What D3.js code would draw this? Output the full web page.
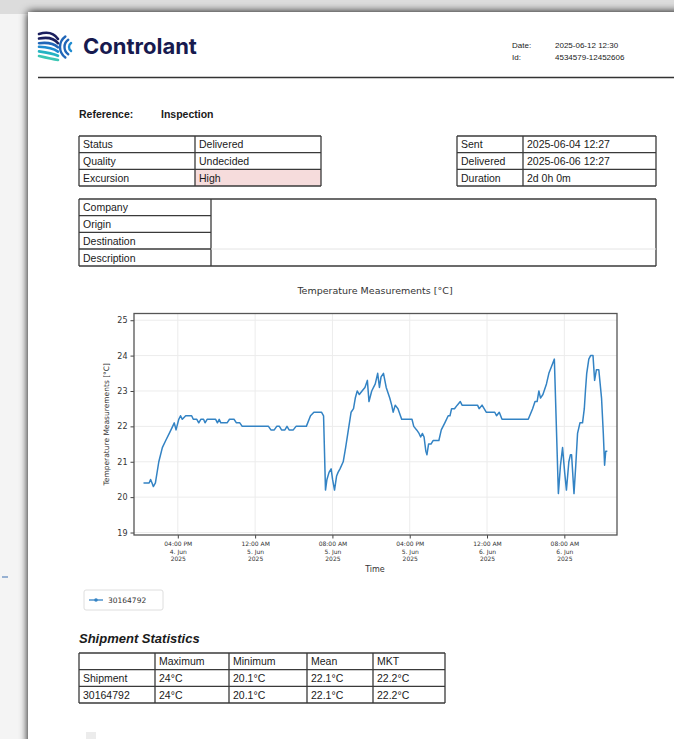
<!DOCTYPE html>
<html>
<head>
<meta charset="utf-8">
<script src="https://cdn.jsdelivr.net/npm/d3@7/dist/d3.min.js"></script>
<style>
  body { margin: 0; background: #f2f2f2; }
  svg { display: block; }
  .doc { font-family: "Liberation Sans", Arial, sans-serif; fill: #1a1a1a; }
  .mpl { font-family: "DejaVu Sans", sans-serif; }
</style>
</head>
<body>
<svg width="674" height="739"></svg>
<script>
// ---- data ----
var headerLabels = ['Date:', 'Id:'];
var headerValues = ['2025-06-12 12:30', '4534579-12452606'];

var statusLabels = ['Status', 'Quality', 'Excursion'];
var statusValues = ['Delivered', 'Undecided', 'High'];

var timeLabels = ['Sent', 'Delivered', 'Duration'];
var timeValues = ['2025-06-04 12:27', '2025-06-06 12:27', '2d 0h 0m'];

var infoLabels = ['Company', 'Origin', 'Destination', 'Description'];

var statColumns = ['', 'Maximum', 'Minimum', 'Mean', 'MKT'];
var statRows = [
    ['Shipment', '24°C', '20.1°C', '22.1°C', '22.2°C'],
    ['30164792', '24°C', '20.1°C', '22.1°C', '22.2°C']
];

var sensorName = '30164792';

var times = [
    '2025-06-04 12:27', '2025-06-04 13:02', '2025-06-04 13:11', '2025-06-04 13:20', '2025-06-04 13:28',
    '2025-06-04 13:41', '2025-06-04 14:02', '2025-06-04 14:24', '2025-06-04 14:45', '2025-06-04 15:07',
    '2025-06-04 15:28', '2025-06-04 15:38', '2025-06-04 15:49', '2025-06-04 16:06', '2025-06-04 16:17',
    '2025-06-04 16:28', '2025-06-04 16:49', '2025-06-04 17:26', '2025-06-04 17:36', '2025-06-04 17:58',
    '2025-06-04 18:10', '2025-06-04 18:23', '2025-06-04 18:40', '2025-06-04 18:49', '2025-06-04 19:02',
    '2025-06-04 19:55', '2025-06-04 20:06', '2025-06-04 20:17', '2025-06-04 20:27', '2025-06-04 21:06',
    '2025-06-04 21:21', '2025-06-04 21:49', '2025-06-04 22:04', '2025-06-04 22:25', '2025-06-04 22:40',
    '2025-06-05 01:23', '2025-06-05 01:38', '2025-06-05 01:59', '2025-06-05 02:14', '2025-06-05 02:31',
    '2025-06-05 02:44', '2025-06-05 03:05', '2025-06-05 03:18', '2025-06-05 03:31', '2025-06-05 03:57',
    '2025-06-05 04:14', '2025-06-05 05:18', '2025-06-05 05:44', '2025-06-05 06:05', '2025-06-05 06:52',
    '2025-06-05 07:05', '2025-06-05 07:17', '2025-06-05 07:26', '2025-06-05 07:39', '2025-06-05 07:52',
    '2025-06-05 08:01', '2025-06-05 08:13', '2025-06-05 08:26', '2025-06-05 08:35', '2025-06-05 08:47',
    '2025-06-05 09:07', '2025-06-05 09:22', '2025-06-05 09:39', '2025-06-05 09:56', '2025-06-05 10:11',
    '2025-06-05 10:22', '2025-06-05 10:34', '2025-06-05 10:47', '2025-06-05 11:04', '2025-06-05 11:22',
    '2025-06-05 11:37', '2025-06-05 11:47', '2025-06-05 12:04', '2025-06-05 12:26', '2025-06-05 12:41',
    '2025-06-05 12:52', '2025-06-05 13:02', '2025-06-05 13:17', '2025-06-05 13:34', '2025-06-05 13:56',
    '2025-06-05 14:08', '2025-06-05 14:17', '2025-06-05 14:30', '2025-06-05 14:47', '2025-06-05 15:10',
    '2025-06-05 16:14', '2025-06-05 16:25', '2025-06-05 16:43', '2025-06-05 16:58', '2025-06-05 17:08',
    '2025-06-05 17:19', '2025-06-05 17:29', '2025-06-05 17:40', '2025-06-05 17:47', '2025-06-05 17:57',
    '2025-06-05 18:12', '2025-06-05 18:25', '2025-06-05 19:01', '2025-06-05 19:16', '2025-06-05 19:38',
    '2025-06-05 19:59', '2025-06-05 20:10', '2025-06-05 20:20', '2025-06-05 20:38', '2025-06-05 20:55',
    '2025-06-05 21:14', '2025-06-05 21:25', '2025-06-05 23:01', '2025-06-05 23:11', '2025-06-05 23:29',
    '2025-06-05 23:55', '2025-06-06 00:48', '2025-06-06 00:59', '2025-06-06 01:16', '2025-06-06 01:33',
    '2025-06-06 04:16', '2025-06-06 04:43', '2025-06-06 04:58', '2025-06-06 05:11', '2025-06-06 05:22',
    '2025-06-06 05:32', '2025-06-06 05:47', '2025-06-06 06:09', '2025-06-06 06:24', '2025-06-06 06:41',
    '2025-06-06 06:58', '2025-06-06 07:23', '2025-06-06 07:36', '2025-06-06 07:49', '2025-06-06 08:02',
    '2025-06-06 08:13', '2025-06-06 08:28', '2025-06-06 08:38', '2025-06-06 08:45', '2025-06-06 09:00',
    '2025-06-06 09:11', '2025-06-06 09:22', '2025-06-06 09:37', '2025-06-06 09:53', '2025-06-06 10:04',
    '2025-06-06 10:11', '2025-06-06 10:19', '2025-06-06 10:32', '2025-06-06 10:43', '2025-06-06 10:58',
    '2025-06-06 11:08', '2025-06-06 11:19', '2025-06-06 11:34', '2025-06-06 11:51', '2025-06-06 12:02',
    '2025-06-06 12:10', '2025-06-06 12:17', '2025-06-06 12:27'
];

var temps = [
    20.4, 20.4, 20.5, 20.4, 20.3,
    20.4, 21.0, 21.4, 21.6, 21.8,
    22.0, 22.1, 21.9, 22.2, 22.3,
    22.2, 22.3, 22.3, 22.2, 22.2,
    22.1, 22.2, 22.2, 22.1, 22.2,
    22.2, 22.1, 22.2, 22.1, 22.1,
    22.2, 22.2, 22.1, 22.1, 22.0,
    22.0, 21.9, 21.9, 22.0, 22.0,
    21.9, 21.9, 22.0, 21.9, 21.9,
    22.0, 22.0, 22.3, 22.4, 22.4,
    22.3, 20.2, 20.5, 20.7, 20.8,
    20.5, 20.2, 20.6, 20.7, 20.8,
    21.0, 21.4, 21.9, 22.4, 22.5,
    22.8, 23.0, 22.9, 23.0, 23.1,
    23.3, 22.7, 23.0, 23.2, 23.5,
    23.1, 23.4, 23.5, 23.1, 22.8,
    22.6, 22.4, 22.6, 22.5, 22.2,
    22.2, 22.0, 21.9, 21.8, 21.7,
    21.8, 21.7, 21.3, 21.2, 21.5,
    21.5, 21.6, 21.6, 21.9, 22.1,
    22.3, 22.3, 22.5, 22.5, 22.6,
    22.7, 22.6, 22.6, 22.5, 22.6,
    22.4, 22.4, 22.3, 22.4, 22.2,
    22.2, 22.5, 22.7, 22.7, 23.0,
    22.8, 22.9, 23.2, 23.5, 23.7,
    23.9, 20.1, 20.9, 21.4, 20.7,
    20.2, 21.0, 21.2, 21.2, 20.1,
    20.9, 21.8, 22.1, 22.1, 22.5,
    23.0, 23.5, 23.9, 24.0, 24.0,
    23.3, 23.6, 23.6, 22.8, 21.8,
    20.9, 21.3, 21.3
];

var yTicks = [19, 20, 21, 22, 23, 24, 25];

// ---- page ----
var svg = d3.select('svg');
var defs = svg.append('defs');
var shadow = defs.append('filter').attr('id', 'shadow')
    .attr('x', '-10%').attr('y', '-10%').attr('width', '120%').attr('height', '120%');
shadow.append('feGaussianBlur').attr('in', 'SourceAlpha').attr('stdDeviation', 4);
shadow.append('feOffset').attr('dx', 0).attr('dy', 0).attr('result', 'blur');
var merge = shadow.append('feMerge');
merge.append('feMergeNode').attr('in', 'blur');
merge.append('feMergeNode').attr('in', 'SourceGraphic');

svg.append('rect').attr('width', 674).attr('height', 739).attr('fill', '#f4f4f4');
svg.append('rect').attr('x', 0).attr('y', 0).attr('width', 674).attr('height', 14).attr('fill', '#dcdcdc');
svg.append('rect')
    .attr('x', 28).attr('y', 12).attr('width', 680).attr('height', 760)
    .attr('fill', '#fff')
    .attr('filter', 'url(#shadow)');

// logo
var logo = svg.append('g').attr('fill', 'none').attr('stroke-linecap', 'round');
var stripeColors = ['#1b1f5e', '#1b1f5e', '#2166b8', '#1e8bd0', '#25b3c2', '#3cc7b4'];
stripeColors.forEach(function(c, i){
    var y = 33 + i * 4.6;
    logo.append('path')
        .attr('d', 'M39,' + (y + (i > 2 ? 0 : 1)) + ' Q52,' + (y - 3 + i * 1.2) + ' 58,' + (y + 6 - i * 0.4))
        .attr('stroke', c).attr('stroke-width', 2.6);
});
[5, 9, 13].forEach(function(r, i){
    var cx = 74 - i * 0.5, cy = 47;
    var a0 = Math.PI * 0.7, a1 = Math.PI * 1.3;
    logo.append('path')
        .attr('d', 'M' + (cx + r * Math.cos(a0)) + ',' + (cy + r * Math.sin(a0)) +
             ' A' + r + ',' + r + ' 0 0 1 ' + (cx + r * Math.cos(a1)) + ',' + (cy + r * Math.sin(a1)))
        .attr('stroke', i === 0 ? '#1e8bd0' : '#2166b8').attr('stroke-width', 2.4);
});

svg.append('text')
    .attr('x', 83).attr('y', 54)
    .style('font-family', 'Inter, Lato, sans-serif')
    .style('font-weight', 700)
    .style('font-size', '22px')
    .attr('fill', '#171a4f')
    .text('Controlant');

var hdr = svg.append('g').attr('class', 'doc').style('font-size', '8px');
headerLabels.forEach(function(l, i){
    hdr.append('text').attr('x', 512).attr('y', 48 + i * 12).text(l);
    hdr.append('text').attr('x', 555).attr('y', 48 + i * 12).text(headerValues[i]);
});

svg.append('line')
    .attr('x1', 38).attr('x2', 674).attr('y1', 77.5).attr('y2', 77.5)
    .attr('stroke', '#333').attr('stroke-width', 1.6);

var ref = svg.append('g').attr('class', 'doc')
    .style('font-size', '10.5px').style('font-weight', 'bold');
ref.append('text').attr('x', 79).attr('y', 118).text('Reference:');
ref.append('text').attr('x', 161).attr('y', 118).text('Inspection');

// ---- tables ----
function drawTable(cols, rows, cells, opts){
    opts = opts || {};
    var g = svg.append('g').attr('class', 'doc').style('font-size', '10.5px');
    cells.forEach(function(row, r){
        row.forEach(function(txt, c){
            var fill = opts.fill ? opts.fill(r, c) : null;
            if (fill) {
                g.append('rect')
                    .attr('x', cols[c]).attr('y', rows[r])
                    .attr('width', cols[c + 1] - cols[c]).attr('height', rows[r + 1] - rows[r])
                    .attr('fill', fill);
            }
            g.append('text')
                .attr('x', cols[c] + 4)
                .attr('y', (rows[r] + rows[r + 1]) / 2 + 4)
                .text(txt);
        });
    });
    var st = '#3a3a3a';
    rows.forEach(function(y, r){
        var x2 = (opts.rowLineEnd && r > 0 && r < rows.length - 1) ? opts.rowLineEnd : cols[cols.length - 1];
        g.append('line').attr('x1', cols[0]).attr('x2', x2)
            .attr('y1', y).attr('y2', y).attr('stroke', st).attr('stroke-width', 1.3);
    });
    cols.forEach(function(x){
        g.append('line').attr('x1', x).attr('x2', x)
            .attr('y1', rows[0]).attr('y2', rows[rows.length - 1]).attr('stroke', st).attr('stroke-width', 1.3);
    });
    return g;
}

drawTable([79, 195, 321], [136, 152.7, 169.3, 186],
    statusLabels.map(function(l, i){ return [l, statusValues[i]]; }),
    { fill: function(r, c){ return (r === 2 && c === 1) ? '#f6dcdc' : null; } });

drawTable([457, 523, 656], [136, 152.7, 169.3, 186],
    timeLabels.map(function(l, i){ return [l, timeValues[i]]; }));

drawTable([79, 211, 656], [199, 215.7, 232.3, 249, 266],
    infoLabels.map(function(l){ return [l, '']; }),
    { rowLineEnd: 211 });
svg.append('line').attr('x1', 211).attr('x2', 656).attr('y1', 249).attr('y2', 249)
    .attr('stroke', '#e4e4e4').attr('stroke-width', 1);

// ---- chart ----
var parseTime = d3.timeParse('%Y-%m-%d %H:%M');
var series = times.map(function(t, i){ return { t: parseTime(t), v: temps[i] }; });

var plotLeft = 134, plotRight = 617, plotTop = 313.5, plotBottom = 535;

var xScale = d3.scaleTime()
    .domain([parseTime('2025-06-04 11:28'), parseTime('2025-06-06 13:27')])
    .range([plotLeft, plotRight]);

var yScale = d3.scaleLinear()
    .domain([18.93, 25.19])
    .range([plotBottom, plotTop]);

var chart = svg.append('g').attr('class', 'mpl');

chart.append('text')
    .attr('x', 375).attr('y', 294)
    .style('text-anchor', 'middle')
    .style('font-size', '9.5px')
    .style('fill', '#333')
    .text('Temperature Measurements [°C]');

var xTicks = xScale.ticks(d3.timeHour.every(8));

// grid
chart.append('g')
    .selectAll('line')
    .data(xTicks)
    .enter()
    .append('line')
        .attr('x1', d => xScale(d)).attr('x2', d => xScale(d))
        .attr('y1', plotTop).attr('y2', plotBottom)
        .attr('stroke', '#ececec').attr('stroke-width', 1);

chart.append('g')
    .selectAll('line')
    .data(yTicks)
    .enter()
    .append('line')
        .attr('x1', plotLeft).attr('x2', plotRight)
        .attr('y1', d => yScale(d)).attr('y2', d => yScale(d))
        .attr('stroke', '#ececec').attr('stroke-width', 1);

var yAxis = d3.axisLeft(yScale)
    .tickValues(yTicks)
    .tickFormat(d3.format('d'))
    .tickSize(3.5)
    .tickPadding(3)
    .tickSizeOuter(0);

var xAxis = d3.axisBottom(xScale)
    .tickValues(xTicks)
    .tickSize(3.5)
    .tickPadding(2)
    .tickSizeOuter(0)
    .tickFormat('');

var gy = chart.append('g')
    .attr('transform', 'translate(' + plotLeft + ',0)')
    .call(yAxis);
gy.select('.domain').remove();
gy.selectAll('text')
    .style('font-family', '"DejaVu Sans", sans-serif')
    .style('font-size', '8px')
    .style('fill', '#333');
gy.selectAll('line').attr('stroke', '#444');

var gx = chart.append('g')
    .attr('transform', 'translate(0,' + plotBottom + ')')
    .call(xAxis);
gx.select('.domain').remove();
gx.selectAll('line').attr('stroke', '#444');
gx.selectAll('text').remove();

var fmtTime = d3.timeFormat('%I:%M %p');
var fmtDay = d3.timeFormat('%-d. %b');
var fmtYear = d3.timeFormat('%Y');
gx.selectAll('.tick').each(function(d){
    var t = d3.select(this).append('text')
        .attr('y', 11)
        .style('fill', '#333')
        .style('font-family', '"DejaVu Sans", sans-serif')
        .style('font-size', '6px')
        .style('text-anchor', 'middle');
    [fmtTime(d), fmtDay(d), fmtYear(d)].forEach(function(s, i){
        t.append('tspan').attr('x', 0).attr('dy', i === 0 ? 0 : 7.6).text(s);
    });
});

chart.append('text')
    .attr('x', 375).attr('y', 572)
    .style('text-anchor', 'middle')
    .style('font-size', '8px')
    .style('fill', '#333')
    .text('Time');

chart.append('text')
    .attr('transform', 'translate(109,' + ((plotTop + plotBottom) / 2) + ') rotate(-90)')
    .style('text-anchor', 'middle')
    .style('font-size', '7.5px')
    .style('fill', '#333')
    .text('Temperature Measurements [°C]');

var line = d3.line()
    .x(d => xScale(d.t))
    .y(d => yScale(d.v));

chart.append('path')
    .datum(series)
    .attr('d', line)
    .attr('fill', 'none')
    .attr('stroke', '#3383c4')
    .attr('stroke-width', 1.5)
    .attr('stroke-linejoin', 'round');

// frame
chart.append('rect')
    .attr('x', plotLeft).attr('y', plotTop)
    .attr('width', plotRight - plotLeft).attr('height', plotBottom - plotTop)
    .attr('fill', 'none')
    .attr('stroke', '#555')
    .attr('stroke-width', 1.3);

// legend
var legend = chart.append('g');
legend.append('rect')
    .attr('x', 84).attr('y', 590).attr('width', 79).attr('height', 20).attr('rx', 2)
    .attr('fill', '#fff').attr('stroke', '#dedede');
legend.append('line')
    .attr('x1', 89).attr('x2', 103).attr('y1', 600).attr('y2', 600)
    .attr('stroke', '#3383c4').attr('stroke-width', 1.3);
legend.append('circle')
    .attr('cx', 96).attr('cy', 600).attr('r', 1.8).attr('fill', '#3383c4');
legend.append('text')
    .attr('x', 108).attr('y', 603)
    .style('font-size', '7.5px')
    .style('fill', '#333')
    .text(sensorName);

// ---- statistics ----
svg.append('text')
    .attr('class', 'doc')
    .attr('x', 79).attr('y', 643)
    .style('font-size', '13px')
    .style('font-weight', 'bold')
    .style('font-style', 'italic')
    .text('Shipment Statistics');

drawTable([79, 155, 229, 307, 373, 445], [653, 669.7, 686.3, 703],
    [statColumns].concat(statRows));

// small marks on page edge
svg.append('line').attr('x1', 2).attr('x2', 8).attr('y1', 577).attr('y2', 577)
    .attr('stroke', '#3a6fb0').attr('stroke-width', 1);
svg.append('rect').attr('x', 86).attr('y', 732).attr('width', 10).attr('height', 7)
    .attr('fill', '#ececec');
</script>
</body>
</html>
